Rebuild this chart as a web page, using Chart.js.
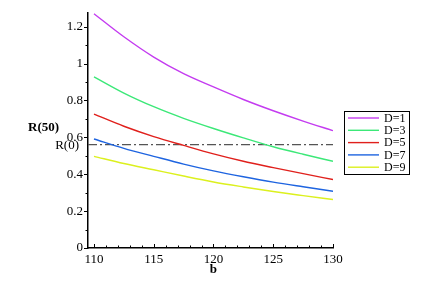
<!DOCTYPE html>
<html>
<head>
<meta charset="utf-8">
<script src="https://cdn.jsdelivr.net/npm/chart.js@4"></script>
<style>
  html, body { margin: 0; padding: 0; background: #fff; }
  #wrap { width: 438px; height: 283px; }
</style>
</head>
<body>
<div id="wrap"><canvas id="chart"></canvas></div>
<script>
// values
const bValues = [110, 112.5, 115, 117.5, 120, 122.5, 125, 127.5, 130];
const seriesD1 = [1.27, 1.145, 1.035, 0.945, 0.873, 0.805, 0.744, 0.688, 0.636];
const seriesD3 = [0.928, 0.84, 0.766, 0.703, 0.648, 0.597, 0.549, 0.508, 0.470];
const seriesD5 = [0.726, 0.66, 0.604, 0.556, 0.51, 0.47, 0.436, 0.403, 0.371];
const seriesD7 = [0.591, 0.54, 0.497, 0.455, 0.418, 0.386, 0.357, 0.332, 0.308];
const seriesD9 = [0.497, 0.458, 0.424, 0.39, 0.358, 0.331, 0.306, 0.284, 0.263];
const seriesLabels = ['D=1', 'D=3', 'D=5', 'D=7', 'D=9'];
const seriesColors = ['#c43cf0', '#3ce878', '#e0201c', '#1e64e0', '#dcf01e'];
const r0Value = 0.56;
const xTicks = [110, 115, 120, 125, 130];
const yTicks = [0, 0.2, 0.4, 0.6, 0.8, 1, 1.2];
const yTickLabels = ['0', '0.2', '0.4', '0.6', '0.8', '1', '1.2'];

const X_MIN = 109.5, X_MAX = 130, Y_MIN = 0, Y_MAX = 1.275;
const FONT = "'Liberation Serif', 'Times New Roman', serif";

const toPoints = arr => arr.map((v, i) => ({ x: bValues[i], y: v }));

const datasets = [seriesD1, seriesD3, seriesD5, seriesD7, seriesD9].map((s, i) => ({
    label: seriesLabels[i],
    data: toPoints(s),
    borderColor: seriesColors[i],
    borderWidth: 1.4,
    pointRadius: 0,
    cubicInterpolationMode: 'monotone',
    fill: false
}));

// R(0) reference line
datasets.push({
    label: 'R(0)',
    data: [{ x: X_MIN, y: r0Value }, { x: X_MAX, y: r0Value }],
    borderColor: '#555',
    borderWidth: 1.3,
    borderDash: [9, 3, 2, 3],
    pointRadius: 0,
    fill: false
});

// ticks, axis labels and legend drawn by hand
const decorPlugin = {
    id: 'decor',
    afterDraw(chart) {
        const ctx = chart.ctx;
        const xs = chart.scales.x, ys = chart.scales.y;
        const area = chart.chartArea;
        ctx.save();
        ctx.strokeStyle = '#000';
        ctx.lineWidth = 1;

        // x ticks (pointing up)
        for (let v = 110; v <= 130; v++) {
            const px = Math.round(xs.getPixelForValue(v)) + 0.5;
            const len = v % 5 === 0 ? 4 : 2.5;
            ctx.beginPath();
            ctx.moveTo(px, area.bottom);
            ctx.lineTo(px, area.bottom - len);
            ctx.stroke();
        }
        // y ticks (pointing left)
        for (let k = 0; k <= 12; k++) {
            const py = Math.round(ys.getPixelForValue(k / 10)) + 0.5;
            const len = k % 2 === 0 ? 4 : 2.5;
            ctx.beginPath();
            ctx.moveTo(area.left, py);
            ctx.lineTo(area.left - len, py);
            ctx.stroke();
        }

        ctx.fillStyle = '#000';
        ctx.textBaseline = 'middle';
        // axis titles
        ctx.font = 'bold 13px ' + FONT;
        ctx.textAlign = 'center';
        ctx.fillText('b', xs.getPixelForValue(120), 270);
        ctx.textAlign = 'left';
        ctx.fillText('R(50)', 28, 128);
        ctx.font = '13px ' + FONT;
        ctx.textAlign = 'right';
        ctx.fillText('R(0)', 79, 146);

        // legend box
        const lx = 344, ly = 111, lw = 65, lh = 63;
        ctx.fillStyle = '#fff';
        ctx.fillRect(lx, ly, lw, lh);
        ctx.strokeStyle = '#000';
        ctx.strokeRect(lx + 0.5, ly + 0.5, lw, lh);
        ctx.font = '12px ' + FONT;
        ctx.textAlign = 'left';
        seriesLabels.forEach((lab, i) => {
            const y = ly + 7 + i * 12.3;
            ctx.strokeStyle = seriesColors[i];
            ctx.lineWidth = 1.4;
            ctx.beginPath();
            ctx.moveTo(lx + 4, y);
            ctx.lineTo(lx + 35, y);
            ctx.stroke();
            ctx.fillStyle = '#000';
            ctx.fillText(lab, lx + 40, y + 0.5);
        });
        ctx.restore();
    }
};

new Chart(document.getElementById('chart'), {
    type: 'line',
    data: { datasets: datasets },
    options: {
        responsive: true,
        maintainAspectRatio: false,
        animation: false,
        events: [],
        layout: {
            padding: { left: 0, top: 12, right: 105, bottom: 0 }
        },
        plugins: {
            legend: { display: false },
            tooltip: { enabled: false }
        },
        scales: {
            x: {
                type: 'linear',
                min: X_MIN,
                max: X_MAX,
                afterBuildTicks: scale => { scale.ticks = xTicks.map(v => ({ value: v })); },
                afterFit: scale => { scale.height = 35; },
                grid: { display: false, drawTicks: false },
                border: { display: true, color: '#000', width: 1.5 },
                ticks: {
                    color: '#000',
                    padding: 4,
                    maxRotation: 0,
                    font: { family: FONT, size: 13 }
                }
            },
            y: {
                type: 'linear',
                min: Y_MIN,
                max: Y_MAX,
                afterBuildTicks: scale => { scale.ticks = yTicks.map(v => ({ value: v })); },
                afterFit: scale => { scale.width = 88; },
                grid: { display: false, drawTicks: false },
                border: { display: true, color: '#000', width: 1.5 },
                ticks: {
                    color: '#000',
                    padding: 5,
                    font: { family: FONT, size: 13 },
                    callback: (v) => {
                        const i = yTicks.findIndex(t => Math.abs(t - v) < 1e-9);
                        return i >= 0 ? yTickLabels[i] : '';
                    }
                }
            }
        }
    },
    plugins: [decorPlugin]
});
</script>
</body>
</html>
